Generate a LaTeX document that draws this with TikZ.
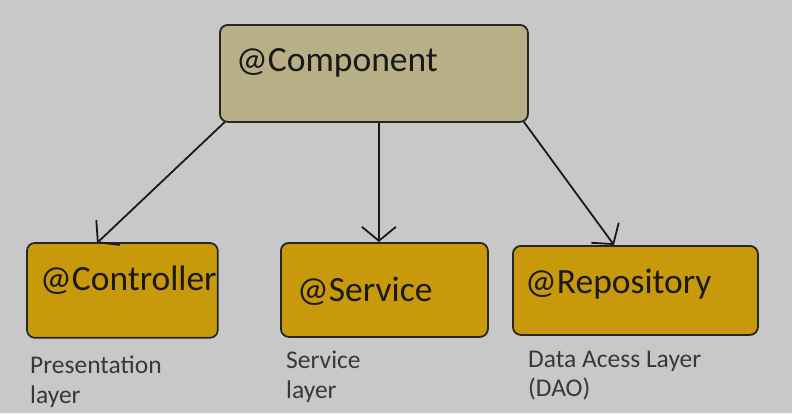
\documentclass[tikz,border=0pt]{standalone}
\usepackage{fontspec}
\setmainfont{Carlito}
\usetikzlibrary{arrows.meta}
\definecolor{bgc}{HTML}{C8C8C8}
\definecolor{tanc}{HTML}{B8AF87}
\definecolor{goldc}{HTML}{C89A0B}
\definecolor{capc}{HTML}{383838}
\begin{document}
\begin{tikzpicture}[x=1pt,y=-1pt,
  box/.style={draw=black!85, line width=1.8pt, rounded corners=8pt, inner sep=0pt, anchor=north west},
  boxtxt/.style={anchor=base west, inner sep=0pt, font=\fontsize{35.5}{35.5}\selectfont, text=black!90},
  captxt/.style={anchor=base west, inner sep=0pt, font=\fontsize{25.5}{30}\selectfont, text=capc, align=left},
  arr/.style={line width=1.8pt, draw=black!90, -{Straight Barb[length=14pt,width=34pt,line width=1.8pt]}}]
\fill[bgc] (0,0) rectangle (792,413);
\useasboundingbox (0,0) rectangle (792,413);

\node[box, fill=tanc, minimum width=308pt, minimum height=97pt] (comp) at (219,24) {};
\node[boxtxt] (comptxt) at (236,71) {@Component};

\node[box, draw=none, fill=goldc, minimum width=189pt, minimum height=93pt] (ctrl) at (27,243) {};
\node[boxtxt] (ctrltxt) at (40,290) {@Controller};
\draw[line width=1.8pt, draw=black!85, rounded corners=8pt] (ctrl.north west) rectangle (ctrl.south east);

\node[box, fill=goldc, minimum width=207pt, minimum height=94pt] (srv) at (280,242) {};
\node[boxtxt] (srvtxt) at (297,301) {@Service};

\node[box, fill=goldc, minimum width=245pt, minimum height=89pt] (repo) at (512,245) {};
\node[boxtxt] (repotxt) at (525,293) {@Repository};

\node[captxt] (l1a) at (30,373) {Presentation};
\node[captxt] (l1b) at (30,403) {layer};
\node[captxt] (l2a) at (286,368) {Service};
\node[captxt] (l2b) at (286,398) {layer};
\node[captxt] (l3a) at (528,367) {Data Acess Layer};
\node[captxt] (l3b) at (528,396) {(DAO)};

\draw[arr] ([xshift=6pt,yshift=1pt]comp.south west) -- ([xshift=70pt]ctrl.north west);
\draw[arr] ([xshift=5pt]comp.south) -- ([xshift=-5.5pt]srv.north);
\draw[arr] ([xshift=-5pt,yshift=1pt]comp.south east) -- ([xshift=102pt]repo.north west);
\end{tikzpicture}
\end{document}
